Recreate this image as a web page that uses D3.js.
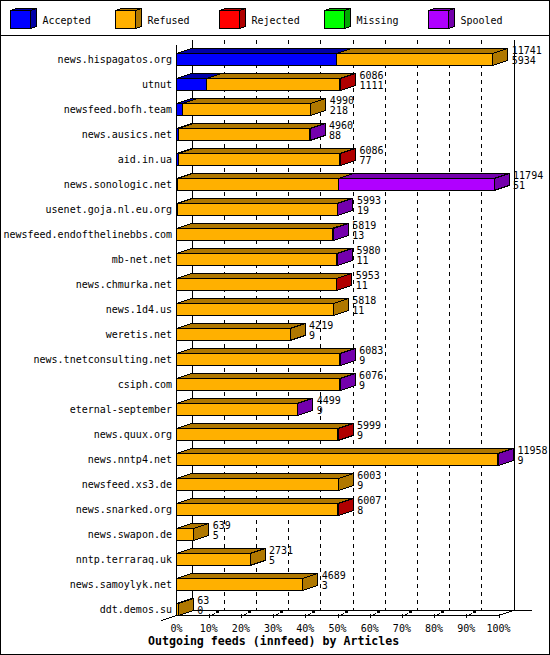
<!DOCTYPE html>
<html>
<head>
<meta charset="utf-8">
<script src="https://cdn.jsdelivr.net/npm/d3@7"></script>
<style>
  body { margin: 0; background: #fff; }
  text { font-family: "DejaVu Sans Mono", monospace; font-size: 10px; fill: #000; }
</style>
</head>
<body>
<script>
// innfeed outgoing feeds
const hosts = ["news.hispagatos.org", "utnut", "newsfeed.bofh.team", "news.ausics.net", "aid.in.ua",
  "news.sonologic.net", "usenet.goja.nl.eu.org", "newsfeed.endofthelinebbs.com", "mb-net.net",
  "news.chmurka.net", "news.1d4.us", "weretis.net", "news.tnetconsulting.net", "csiph.com",
  "eternal-september", "news.quux.org", "news.nntp4.net", "newsfeed.xs3.de", "news.snarked.org",
  "news.swapon.de", "nntp.terraraq.uk", "news.samoylyk.net", "ddt.demos.su"];
const offered  = [11741, 6086, 4990, 4960, 6086, 11794, 5993, 5819, 5980, 5953, 5818, 4219, 6083, 6076, 4499, 5999, 11958, 6003, 6007, 639, 2731, 4689, 63];
const accepted = [5934, 1111, 218, 88, 77, 51, 19, 13, 11, 11, 11, 9, 9, 9, 9, 9, 9, 9, 8, 5, 5, 3, 0];
const refused  = [5807, 4955, 4772, 4842, 5989, 5960, 5944, 5766, 5949, 5922, 5807, 4210, 6054, 6047, 4470, 5970, 11929, 5994, 5979, 634, 2726, 4686, 63];
const rejected = [0, 20, 0, 0, 20, 0, 0, 0, 0, 20, 0, 0, 0, 0, 0, 20, 0, 0, 20, 0, 0, 0, 0];
const missing  = [0, 0, 0, 0, 0, 0, 0, 0, 0, 0, 0, 0, 0, 0, 0, 0, 0, 0, 0, 0, 0, 0, 0];
const spooled  = [0, 0, 0, 30, 0, 5783, 30, 40, 20, 0, 0, 0, 20, 20, 20, 0, 20, 0, 0, 0, 0, 0, 0];
const categories = ["Accepted", "Refused", "Rejected", "Missing", "Spooled"];
const tickLabels = ["0%", "10%", "20%", "30%", "40%", "50%", "60%", "70%", "80%", "90%", "100%"];
const title = "Outgoing feeds (innfeed) by Articles";

const front = ["#0000ff", "#ffb000", "#ff0000", "#00ff00", "#b000ff"];
const dark  = ["#0000a8", "#b07800", "#b00000", "#00a800", "#7400ac"];
const series = [accepted, refused, rejected, missing, spooled];

const W = 550, H = 655;
const DX = 15, DY = 5;       // depth of the 3d bars
const floorY = 615;

const svg = d3.select("body").append("svg")
  .attr("width", W).attr("height", H)
  .style("display", "block")
  .attr("shape-rendering", "crispEdges");

svg.append("rect").attr("x", 0.5).attr("y", 0.5).attr("width", W - 1).attr("height", H - 1)
  .attr("fill", "#fff").attr("stroke", "#000");

// legend
const legend = svg.append("g");
categories.forEach((c, i) => {
  const lx = 10 + i * 104.5, ly = 10, lw = 20, lh = 18;
  const g = legend.append("g").attr("transform", `translate(${Math.round(lx) + 0.5},${ly + 0.5})`);
  g.append("polygon").attr("points", `0,0 ${lw},0 ${lw + 6},-2 6,-2`).attr("fill", dark[i]).attr("stroke", "#000");
  g.append("polygon").attr("points", `${lw},0 ${lw + 6},-2 ${lw + 6},${lh - 2} ${lw},${lh}`).attr("fill", dark[i]).attr("stroke", "#000");
  g.append("rect").attr("width", lw).attr("height", lh).attr("fill", front[i]).attr("stroke", "#000");
  g.append("text").attr("x", 32).attr("y", 10).attr("dominant-baseline", "middle").text(c);
});
svg.append("line").attr("x1", 0).attr("x2", W).attr("y1", 35.5).attr("y2", 35.5).attr("stroke", "#000");

// scales
const maxTotal = d3.max(offered);
const x = d3.scaleLinear().domain([0, 100]).range([176.5, 498.5]);
const y = d3.scaleBand().domain(hosts).range([48, 48 + 25 * hosts.length]);

// back grid
const ticks = d3.range(tickLabels.length).map(k => k * 10);
svg.append("g").selectAll("line").data(ticks).join("line")
  .attr("x1", d => Math.round(x(d) + DX) + 0.5).attr("x2", d => Math.round(x(d) + DX) + 0.5)
  .attr("y1", 40).attr("y2", floorY - DY)
  .attr("stroke", "#000")
  .attr("stroke-dasharray", d => (d === 0 || d === 100) ? null : "4,4");

// front left edge + floor
const axis = svg.append("g").attr("stroke", "#000").attr("fill", "none");
axis.append("line").attr("x1", x(0)).attr("x2", x(0)).attr("y1", 45).attr("y2", floorY);
axis.append("line").attr("x1", x(0)).attr("x2", x(100)).attr("y1", floorY + 0.5).attr("y2", floorY + 0.5);
axis.append("line").attr("x1", x(0) + DX).attr("x2", 532).attr("y1", floorY - DY + 0.5).attr("y2", floorY - DY + 0.5);
axis.append("line").attr("x1", x(0) - DX).attr("y1", floorY + DY + 0.5).attr("x2", x(0) + DX).attr("y2", floorY - DY + 0.5);
axis.append("line").attr("x1", x(100)).attr("y1", floorY + 0.5).attr("x2", x(100) + DX).attr("y2", floorY - DY + 0.5);

// tick marks
ticks.filter(d => d > 0).forEach(d => {
  const tx = Math.round(x(d)) + 0.5;
  axis.append("line").attr("x1", tx).attr("x2", tx).attr("y1", floorY - 1).attr("y2", floorY + 3);
  if (d < 100) {
    axis.append("line").attr("x1", tx).attr("y1", floorY + 1).attr("x2", tx + 6).attr("y2", floorY - 1.5);
    axis.append("rect").attr("x", tx + 6.5).attr("y", floorY - 4).attr("width", 2.5).attr("height", 2)
      .attr("fill", "#000").attr("stroke", "none");
  }
});
svg.append("g").selectAll("text").data(ticks).join("text")
  .attr("x", d => x(d)).attr("y", 628.5)
  .attr("text-anchor", "middle").attr("dominant-baseline", "middle")
  .text((d, i) => tickLabels[i]);

// bars
const pct = v => v / maxTotal * 100;
const bars = svg.append("g").attr("stroke", "#000");
hosts.forEach((h, r) => {
  const top = y(h) + 5.5, bh = 12;
  let cum = 0;
  series.forEach((s, k) => {
    const v = s[r];
    if (!v) return;
    const x0 = x(pct(cum)), x1 = x(pct(cum + v));
    cum += v;
    const g = bars.append("g");
    g.append("rect").attr("x", x0).attr("y", top).attr("width", x1 - x0).attr("height", bh).attr("fill", front[k]);
    g.append("polygon").attr("points", `${x0},${top} ${x1},${top} ${x1 + DX},${top - DY} ${x0 + DX},${top - DY}`).attr("fill", dark[k]);
    g.append("polygon").attr("points", `${x1},${top} ${x1 + DX},${top - DY} ${x1 + DX},${top + bh - DY} ${x1},${top + bh}`).attr("fill", dark[k]);
  });
  const end = x(pct(offered[r])) + DX + 4;
  svg.append("text").attr("x", end).attr("y", top - 3).attr("dominant-baseline", "middle").text(offered[r]);
  svg.append("text").attr("x", end).attr("y", top + 7).attr("dominant-baseline", "middle").text(accepted[r]);
});

// host labels
svg.append("g").selectAll("text").data(hosts).join("text")
  .attr("x", 172).attr("y", d => y(d) + 11.5)
  .attr("text-anchor", "end").attr("dominant-baseline", "middle")
  .text(d => d);

svg.append("text").attr("x", 148).attr("y", 641)
  .attr("dominant-baseline", "middle")
  .style("font-weight", "bold").style("font-size", "11.6px")
  .text(title);
</script>
</body>
</html>
